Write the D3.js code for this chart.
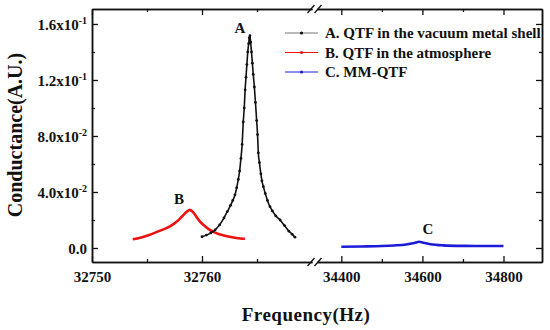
<!DOCTYPE html>
<html>
<head>
<meta charset="utf-8">
<script src="https://cdn.jsdelivr.net/npm/d3@7"></script>
<style>
    body { margin: 0; background: #fff; }
    svg text { font-family: "Liberation Serif", "Times New Roman", serif; font-weight: bold; fill: #111; }
</style>
</head>
<body>
<div id="chart"></div>
<script>
// A. QTF in the vacuum metal shell
const freqA = [32760.0, 32760.4, 32760.8, 32761.2, 32761.6, 32762.0, 32762.3, 32762.6, 32762.8, 32763.0,
    32763.15, 32763.3, 32763.42, 32763.54, 32763.65, 32763.75, 32763.84, 32763.92, 32764.0, 32764.08,
    32764.16, 32764.24, 32764.3, 32764.36, 32764.42, 32764.5, 32764.58, 32764.66, 32764.76, 32764.86,
    32764.97, 32765.05, 32765.12, 32765.22, 32765.35, 32765.45, 32765.58, 32765.75, 32765.95, 32766.18,
    32766.4, 32766.7, 32767.1, 32767.5, 32767.9, 32768.2, 32768.45];
const condA = [0.0081, 0.0092, 0.0108, 0.0130, 0.0165, 0.0215, 0.0260, 0.0305, 0.0340, 0.0380,
    0.0430, 0.0490, 0.0550, 0.0640, 0.0740, 0.0900, 0.1000, 0.1130, 0.1220, 0.1310,
    0.1400, 0.1460, 0.1500, 0.1516, 0.1470, 0.1400, 0.1320, 0.1240, 0.1150, 0.1040,
    0.0910, 0.0810, 0.0680, 0.0610, 0.0530, 0.0480, 0.0438, 0.0390, 0.0340, 0.0295,
    0.0265, 0.0230, 0.0200, 0.0160, 0.0120, 0.0098, 0.0077];

// B. QTF in the atmosphere
const freqB = [32753.7, 32754.2, 32754.7, 32755.2, 32755.7, 32756.2, 32756.7, 32757.2, 32757.6, 32758.0,
    32758.3, 32758.6, 32758.9, 32759.2, 32759.5, 32759.8, 32760.2, 32760.6, 32761.0, 32761.5,
    32762.0, 32762.5, 32763.0, 32763.5, 32763.9];
const condB = [0.0062, 0.0070, 0.0080, 0.0093, 0.0108, 0.0124, 0.0140, 0.0160, 0.0182, 0.0210,
    0.0235, 0.0258, 0.0272, 0.0255, 0.0222, 0.0190, 0.0160, 0.0135, 0.0117, 0.0100,
    0.0089, 0.0080, 0.0073, 0.0068, 0.0066];

// C. MM-QTF
const freqC = [34400, 34450, 34500, 34530, 34560, 34580, 34592, 34605, 34620, 34650, 34700, 34750, 34800];
const condC = [0.0009, 0.0011, 0.0014, 0.0018, 0.0025, 0.0036, 0.0045, 0.0036, 0.0027, 0.0019, 0.0015, 0.0014, 0.0014];

const seriesNames = ["A. QTF in the vacuum metal shell", "B. QTF in the atmosphere", "C. MM-QTF"];
const seriesColors = ["#111", "#ee1111", "#1c1cd8"];

const yTicks = [0, 0.04, 0.08, 0.12, 0.16];
const yMinor = [0.02, 0.06, 0.10, 0.14];
const yTickLabels = [["0.0", ""], ["4.0x10", "-2"], ["8.0x10", "-2"], ["1.2x10", "-1"], ["1.6x10", "-1"]];
const xLeftTicks = [32750, 32760];
const xLeftMinor = [32755, 32765];
const xRightTicks = [34400, 34600, 34800];
const xRightMinor = [34500, 34700];

const width = 550, height = 330;
const plotLeft = 92, plotRight = 542, plotTop = 9, plotBottom = 262;
const breakL = 312, breakR = 317;

const svg = d3.select("#chart").append("svg")
    .attr("width", width)
    .attr("height", height);

const xL = d3.scaleLinear().domain([32750, 32770]).range([plotLeft, breakL]);
const xR = d3.scaleLinear().domain([34340, 34895]).range([breakR, plotRight]);
const y = d3.scaleLinear().domain([-0.01, 0.1707]).range([plotBottom, plotTop]);

function styleAxis(g) {
    g.selectAll("path").attr("stroke", "#111").attr("stroke-width", 1.5);
    g.selectAll("line").attr("stroke", "#111").attr("stroke-width", 1.3);
    g.selectAll("text").attr("font-size", 15).attr("fill", "#111")
        .attr("font-family", "Liberation Serif, Times New Roman, serif").attr("font-weight", "bold");
}

// bottom and top axes, two segments each
[[xL, xLeftTicks, xLeftMinor], [xR, xRightTicks, xRightMinor]].forEach(([sc, major, minor]) => {
    svg.append("g").attr("transform", `translate(0,${plotBottom})`)
        .call(d3.axisBottom(sc).tickValues(major).tickSize(-6).tickSizeOuter(0).tickPadding(9).tickFormat(d3.format("d")))
        .call(styleAxis);
    svg.append("g").attr("transform", `translate(0,${plotBottom})`)
        .call(d3.axisBottom(sc).tickValues(minor).tickSize(-3).tickSizeOuter(0).tickFormat(""))
        .call(styleAxis);
    svg.append("g").attr("transform", `translate(0,${plotTop})`)
        .call(d3.axisTop(sc).tickValues(major).tickSize(-6).tickSizeOuter(0).tickFormat(""))
        .call(styleAxis);
    svg.append("g").attr("transform", `translate(0,${plotTop})`)
        .call(d3.axisTop(sc).tickValues(minor).tickSize(-3).tickSizeOuter(0).tickFormat(""))
        .call(styleAxis);
});

// left and right axes
const yAxisLeft = svg.append("g").attr("transform", `translate(${plotLeft},0)`)
    .call(d3.axisLeft(y).tickValues(yTicks).tickSize(-6).tickSizeOuter(0).tickPadding(5).tickFormat(""))
    .call(styleAxis);
yAxisLeft.selectAll(".tick text").each(function (d, i) {
    const t = d3.select(this).attr("dy", "0.35em");
    t.append("tspan").text(yTickLabels[i][0]);
    if (yTickLabels[i][1]) {
        t.append("tspan").attr("font-size", 10).attr("dy", "-0.6em").text(yTickLabels[i][1]);
    }
});
svg.append("g").attr("transform", `translate(${plotLeft},0)`)
    .call(d3.axisLeft(y).tickValues(yMinor).tickSize(-3).tickSizeOuter(0).tickFormat(""))
    .call(styleAxis);
svg.append("g").attr("transform", `translate(${plotRight},0)`)
    .call(d3.axisRight(y).tickValues(yTicks).tickSize(-6).tickSizeOuter(0).tickFormat(""))
    .call(styleAxis);
svg.append("g").attr("transform", `translate(${plotRight},0)`)
    .call(d3.axisRight(y).tickValues(yMinor).tickSize(-3).tickSizeOuter(0).tickFormat(""))
    .call(styleAxis);

// break marks
[plotTop, plotBottom].forEach(yy => {
    [breakL - 1, breakR + 1].forEach(xx => {
        svg.append("line")
            .attr("x1", xx - 3.5).attr("y1", yy + 4)
            .attr("x2", xx + 3.5).attr("y2", yy - 4)
            .attr("stroke", "#111").attr("stroke-width", 1.3);
    });
});

// curves
const lineL = d3.line().x(d => xL(d[0])).y(d => y(d[1])).curve(d3.curveMonotoneX);
const lineR = d3.line().x(d => xR(d[0])).y(d => y(d[1])).curve(d3.curveMonotoneX);
const dataA = d3.zip(freqA, condA);
const dataB = d3.zip(freqB, condB);
const dataC = d3.zip(freqC, condC);

svg.append("path").datum(dataB)
    .attr("d", lineL)
    .attr("fill", "none").attr("stroke", seriesColors[1]).attr("stroke-width", 2.6);

svg.append("path").datum(dataA)
    .attr("d", lineL)
    .attr("fill", "none").attr("stroke", seriesColors[0]).attr("stroke-width", 1.6);
svg.selectAll(".dotA").data(dataA)
    .enter().append("circle")
    .attr("class", "dotA")
    .attr("cx", d => xL(d[0]))
    .attr("cy", d => y(d[1]))
    .attr("r", 1.4)
    .attr("fill", seriesColors[0]);

svg.append("path").datum(dataC)
    .attr("d", lineR)
    .attr("fill", "none").attr("stroke", seriesColors[2]).attr("stroke-width", 2.6);

// curve labels
svg.append("text").attr("x", 240).attr("y", 33).attr("text-anchor", "middle").attr("font-size", 15).text("A");
svg.append("text").attr("x", 179).attr("y", 204).attr("text-anchor", "middle").attr("font-size", 15).text("B");
svg.append("text").attr("x", 428).attr("y", 234).attr("text-anchor", "middle").attr("font-size", 15).text("C");

// legend
const legend = svg.append("g");
seriesNames.forEach((name, i) => {
    const ly = 33 + i * 19.5;
    legend.append("line")
        .attr("x1", 285).attr("x2", 318).attr("y1", ly).attr("y2", ly)
        .attr("stroke", i === 0 ? "#777" : seriesColors[i]).attr("stroke-width", 1);
    legend.append("circle")
        .attr("cx", 301.5).attr("cy", ly).attr("r", 1.6)
        .attr("fill", seriesColors[i]);
    legend.append("text")
        .attr("x", 325).attr("y", ly).attr("dy", "0.35em")
        .attr("font-size", 15).text(name);
});

// axis titles
svg.append("text")
    .attr("x", 306).attr("y", 321)
    .attr("text-anchor", "middle")
    .attr("font-size", 19)
    .attr("letter-spacing", 0.5)
    .text("Frequency(Hz)");

svg.append("text")
    .attr("transform", "translate(22,135) rotate(-90)")
    .attr("text-anchor", "middle")
    .attr("font-size", 20)
    .text("Conductance(A.U.)");
</script>
</body>
</html>
